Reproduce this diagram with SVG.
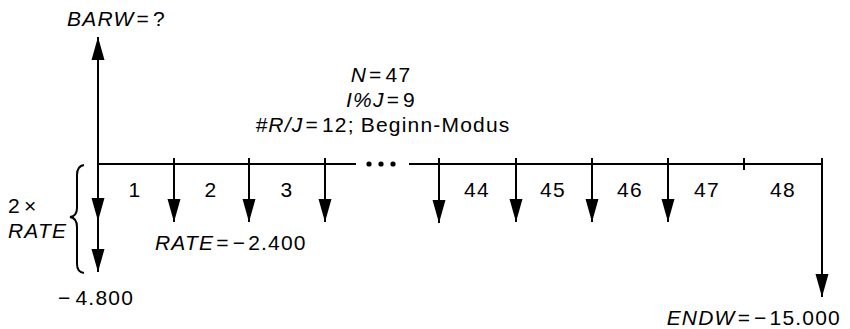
<svg xmlns="http://www.w3.org/2000/svg" width="850" height="329" viewBox="0 0 850 329">
<defs>
<marker id="ah" markerUnits="userSpaceOnUse" markerWidth="24" markerHeight="14" refX="23" refY="7" orient="auto">
<path d="M0,0.5 L23,7 L0,13.5 Z" fill="#000"/>
</marker>
<style>
text{font-family:"Liberation Sans",Arial,sans-serif;font-size:21px;letter-spacing:1.2px;fill:#000}
.i{font-style:italic}
.ln{stroke:#000;stroke-width:2;fill:none}
</style>
</defs>
<rect width="850" height="329" fill="#fff"/>
<g id="connectors">
<line class="ln" x1="98" y1="164" x2="356" y2="164"/>
<line class="ln" x1="409" y1="164" x2="822" y2="164"/>
<line class="ln" x1="98" y1="164" x2="98" y2="37" marker-end="url(#ah)"/>
<line class="ln" x1="98" y1="164" x2="98" y2="221" marker-end="url(#ah)"/>
<line class="ln" x1="98" y1="221" x2="98" y2="272" marker-end="url(#ah)"/>
<line class="ln" x1="174" y1="158" x2="174" y2="222" marker-end="url(#ah)"/>
<line class="ln" x1="249" y1="158" x2="249" y2="222" marker-end="url(#ah)"/>
<line class="ln" x1="325" y1="158" x2="325" y2="222" marker-end="url(#ah)"/>
<line class="ln" x1="439" y1="158" x2="439" y2="223" marker-end="url(#ah)"/>
<line class="ln" x1="516" y1="158" x2="516" y2="222" marker-end="url(#ah)"/>
<line class="ln" x1="592" y1="158" x2="592" y2="222" marker-end="url(#ah)"/>
<line class="ln" x1="668" y1="158" x2="668" y2="222" marker-end="url(#ah)"/>
<line class="ln" x1="744" y1="158" x2="744" y2="170"/>
<line class="ln" x1="822" y1="158" x2="822" y2="297" marker-end="url(#ah)"/>
<circle cx="369" cy="164" r="2.6"/>
<circle cx="381" cy="164" r="2.6"/>
<circle cx="393" cy="164" r="2.6"/>
<path class="ln" d="M84,165 Q77,166 77,175 L77,208 Q77,216 70,217 Q77,218 77,227 L77,264 Q77,272 84,273" stroke-width="1.8"/>
</g>
<g id="labels">
<text x="67" y="26"><tspan class="i">BARW</tspan><tspan dx="2">=</tspan><tspan dx="3">?</tspan></text>
<text x="381" y="82" text-anchor="middle"><tspan class="i">N</tspan><tspan dx="2">=</tspan><tspan dx="3">47</tspan></text>
<text x="381" y="107" text-anchor="middle"><tspan class="i">I%J</tspan><tspan dx="2">=</tspan><tspan dx="3">9</tspan></text>
<text x="383" y="132" text-anchor="middle"><tspan class="i">#R/J</tspan><tspan dx="2">=</tspan><tspan dx="3">12;</tspan><tspan dx="6">Beginn-Modus</tspan></text>
<text x="135" y="197" text-anchor="middle">1</text>
<text x="211" y="197" text-anchor="middle">2</text>
<text x="287" y="197" text-anchor="middle">3</text>
<text x="477" y="197" text-anchor="middle">44</text>
<text x="553" y="197" text-anchor="middle">45</text>
<text x="630" y="197" text-anchor="middle">46</text>
<text x="707" y="197" text-anchor="middle">47</text>
<text x="783" y="197" text-anchor="middle">48</text>
<text x="8" y="213">2<tspan dx="3">×</tspan></text>
<text x="8" y="238" class="i">RATE</text>
<text x="155" y="250"><tspan class="i">RATE</tspan><tspan dx="2">=</tspan><tspan dx="3">−</tspan><tspan dx="2">2.400</tspan></text>
<text x="58" y="305">−<tspan dx="4">4.800</tspan></text>
<text x="841" y="325" text-anchor="end"><tspan class="i">ENDW</tspan><tspan dx="2">=</tspan><tspan dx="3">−</tspan><tspan dx="2">15.000</tspan></text>
</g>
</svg>
